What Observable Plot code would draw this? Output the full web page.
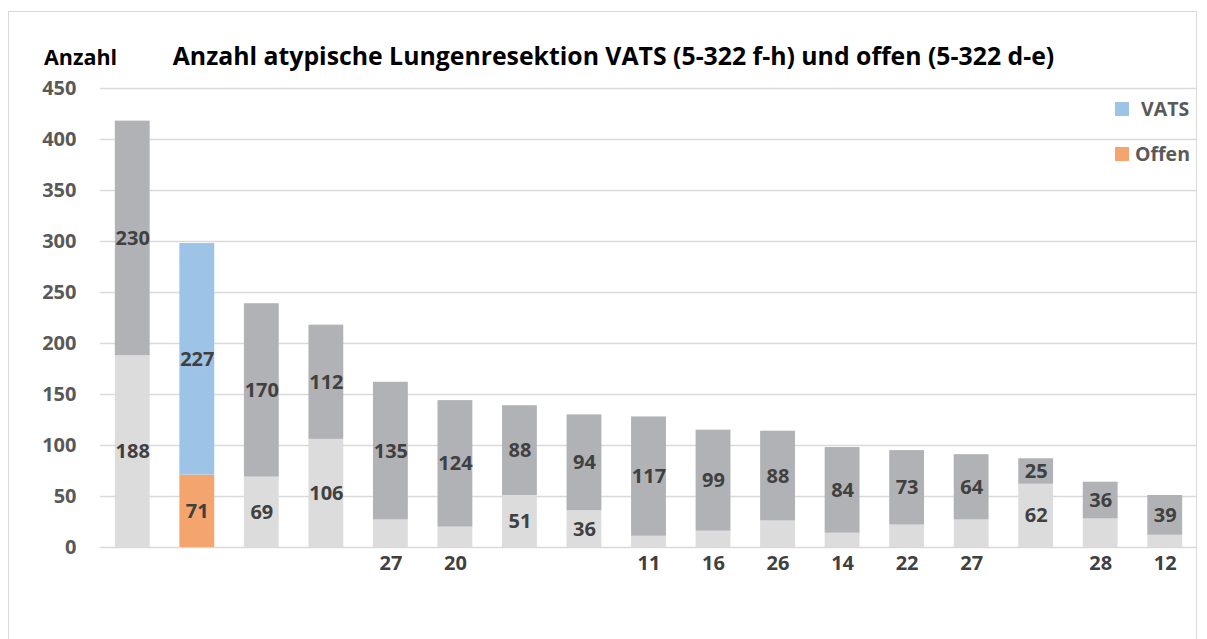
<!DOCTYPE html>
<html>
<head>
<meta charset="utf-8">
<script src="https://cdn.jsdelivr.net/npm/d3@7"></script>
<script src="https://cdn.jsdelivr.net/npm/@observablehq/plot@0.6"></script>
<style>
  html, body { margin: 0; padding: 0; background: #fff; }
  #wrap { position: relative; width: 1207px; height: 639px; overflow: hidden; font-family: "Open Sans", sans-serif; }
  #frame { position: absolute; left: 8px; top: 11px; width: 1189px; height: 660px; border: 1.5px solid #d9d9d9; box-sizing: border-box; }
  #chart { position: absolute; left: 0; top: 0; }
  .txt { position: absolute; font-weight: 700; white-space: nowrap; }
  #title { left: 0; width: 1227px; text-align: center; top: 38px; font-size: 24.8px; color: #000; }
  #ylab { left: 44px; top: 42px; font-size: 21.5px; color: #000; }
  .lg { position: absolute; font-size: 19.5px; font-weight: 700; color: #595959; display: flex; align-items: center; }
  .sw { width: 14px; height: 14px; display: inline-block; margin-right: 12px; }
</style>
</head>
<body>
<div id="wrap">
  <div id="frame"></div>
  <div id="chart"></div>
  <div class="txt" id="title">Anzahl atypische Lungenresektion VATS (5-322 f-h) und offen (5-322 d-e)</div>
  <div class="txt" id="ylab">Anzahl</div>
  <div class="lg" style="left:1115px; top:95px;"><span class="sw" style="background:#9dc3e6"></span>VATS</div>
  <div class="lg" style="left:1115px; top:140px;"><span class="sw" style="background:#f4a56e; margin-right:6px"></span>Offen</div>
</div>
<script>
// Data
const categories = ["1","2","3","4","5","6","7","8","9","10","11","12","13","14","15","16","17"];
const offen = [188, 71, 69, 106, 27, 20, 51, 36, 11, 16, 26, 14, 22, 27, 62, 28, 12];
const vats  = [230, 227, 170, 112, 135, 124, 88, 94, 117, 99, 88, 84, 73, 64, 25, 36, 39];
const highlighted = ["2"];
const yTicks = [0, 50, 100, 150, 200, 250, 300, 350, 400, 450];

const colors = {
  Offen: {normal: "#dcdcdc", hl: "#f4a56e"},
  VATS:  {normal: "#b1b2b6", hl: "#9dc3e6"}
};

const rows = [];
categories.forEach((c, i) => {
  const hl = highlighted.includes(c);
  rows.push({cat: c, series: "Offen", value: offen[i], base: 0, hl});
  rows.push({cat: c, series: "VATS", value: vats[i], base: offen[i], hl});
});

const fillOf = d => d.hl ? colors[d.series].hl : colors[d.series].normal;

const vatsLabels = rows.filter(d => d.series === "VATS");
const offenInside = rows.filter(d => d.series === "Offen" && d.value >= 30);
const offenBelow = rows.filter(d => d.series === "Offen" && d.value < 30);

const labelStyle = {fontSize: 20, fontWeight: 700, fill: "#404040", fontFamily: "Open Sans, sans-serif"};

const chart = Plot.plot({
  width: 1207,
  height: 639,
  marginTop: 88,
  marginBottom: 92,
  marginLeft: 100,
  marginRight: 10,
  style: {fontFamily: "Open Sans, sans-serif", background: "transparent"},
  x: {domain: categories, paddingInner: 0.46, paddingOuter: 0.23, round: false, axis: null},
  y: {domain: [0, 450], axis: null},
  color: {type: "identity"},
  marks: [
    Plot.ruleY(yTicks, {stroke: "#d9d9d9", strokeWidth: 1.5}),
    Plot.axisY({ticks: yTicks, tickSize: 0, tickPadding: 24, tickFormat: d => d, fontSize: 20, fontWeight: 700, fill: "#595959", label: null}),
    Plot.barY(rows, Plot.stackY({x: "cat", y: "value", fill: fillOf})),
    Plot.text(vatsLabels, {x: "cat", y: d => d.base + d.value / 2, text: d => String(d.value), ...labelStyle}),
    Plot.text(offenInside, {x: "cat", y: d => d.value / 2, text: d => String(d.value), ...labelStyle}),
    Plot.text(offenBelow, {x: "cat", y: 0, dy: 16, text: d => String(d.value), ...labelStyle})
  ]
});
document.getElementById("chart").appendChild(chart);
</script>
</body>
</html>
